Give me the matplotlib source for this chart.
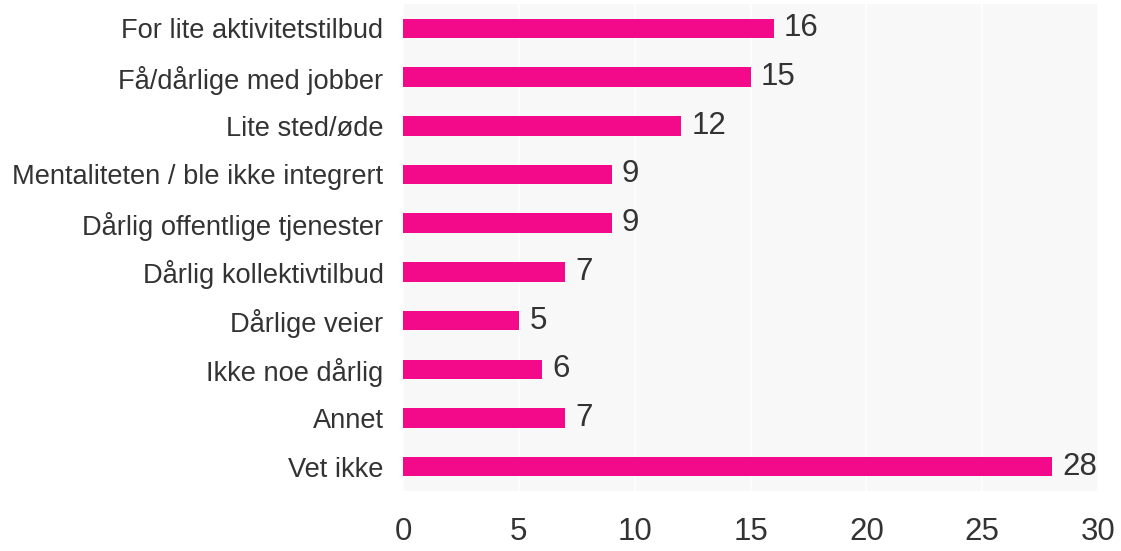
import matplotlib.pyplot as plt

# data
kategorier = ['For lite aktivitetstilbud', 'Få/dårlige med jobber', 'Lite sted/øde',
              'Mentaliteten / ble ikke integrert', 'Dårlig offentlige tjenester',
              'Dårlig kollektivtilbud', 'Dårlige veier', 'Ikke noe dårlig',
              'Annet', 'Vet ikke']
verdier = [16, 15, 12, 9, 9, 7, 5, 6, 7, 28]
x_ticks = [0, 5, 10, 15, 20, 25, 30]

plt.rcParams['font.family'] = ['Liberation Sans', 'DejaVu Sans']
tekstfarge = '#333333'

fig = plt.figure(figsize=(11.21, 5.51), dpi=100)
ax = fig.add_axes([0.3595, 0.1089, 0.62, 0.8838])
ax.set_facecolor('#f8f8f8')

pos = list(range(len(kategorier)))
ax.barh(pos, verdier, height=0.4, color='#f20a8a', zorder=3)

for p, v in zip(pos, verdier):
    ax.annotate(str(v), (v, p), xytext=(7.5, 0), textcoords='offset points',
                va='center', ha='left', fontsize=22.5, color=tekstfarge)

ax.set_xlim(0, 30)
ax.set_ylim(len(kategorier) - 0.5, -0.5)
ax.set_xticks(x_ticks)
ax.set_xticklabels([str(t) for t in x_ticks], fontsize=22.5, color=tekstfarge)
ax.set_yticks(pos)
ax.set_yticklabels(kategorier, fontsize=19.6, color=tekstfarge)
ax.tick_params(axis='x', length=0, pad=19)
ax.tick_params(axis='y', length=0, pad=14)
ax.grid(axis='x', color='white', linewidth=1.2, zorder=1)
for s in ax.spines.values():
    s.set_visible(False)

plt.savefig('out.png', dpi=100)
